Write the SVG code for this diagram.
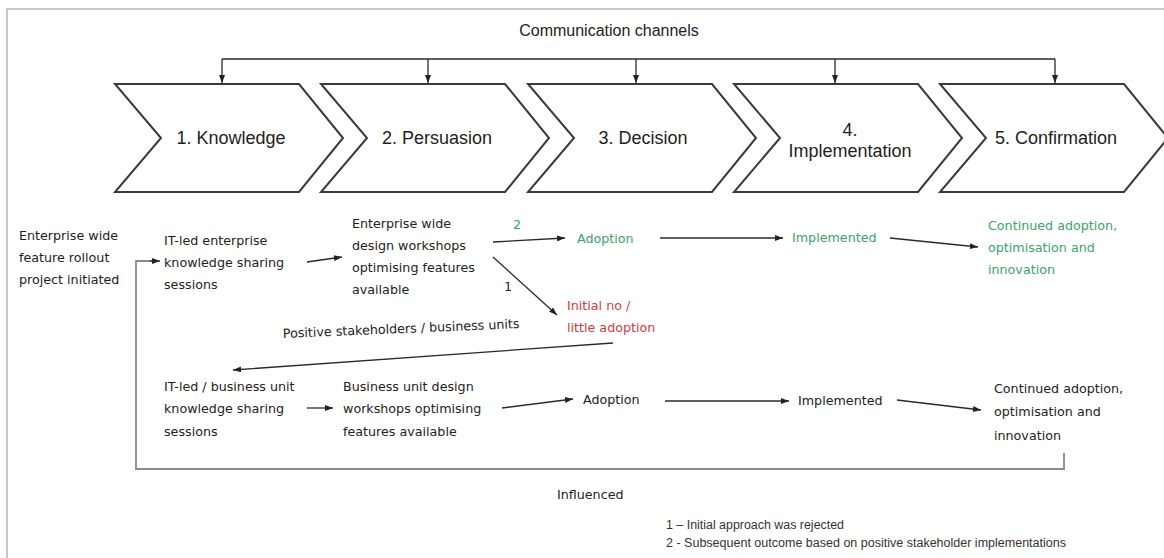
<svg xmlns="http://www.w3.org/2000/svg" width="1164" height="558" viewBox="0 0 1164 558">
  <defs>
    <marker id="arrow" markerUnits="userSpaceOnUse" markerWidth="8" markerHeight="6" refX="8" refY="3" orient="auto">
      <path d="M0,0 L8,3 L0,6 Z" fill="#222"/>
    </marker>
    <style>
      .frame { fill: none; stroke: #c8c8c8; stroke-width: 2; }
      .chev { fill: #ffffff; stroke: #3a3a3a; stroke-width: 2; stroke-linejoin: miter; }
      .stage { font-family: "Liberation Sans", Arial, sans-serif; font-size: 18px; fill: #222; text-anchor: middle; }
      .txt { font-family: "DejaVu Sans", Verdana, sans-serif; font-size: 12.7px; fill: #222; }
      .green { fill: #3ba36b; }
      .red { fill: #d23c3c; }
      .title { font-family: "Liberation Sans", Arial, sans-serif; font-size: 16px; fill: #222; text-anchor: middle; }
      .note { font-family: "Liberation Sans", Arial, sans-serif; font-size: 12.5px; fill: #333; }
      .conn { fill: none; stroke: #2a2a2a; stroke-width: 1.3; }
      .loop { fill: none; stroke: #8a8a8a; stroke-width: 1.8; }
    </style>
  </defs>

  <rect width="1164" height="558" fill="#ffffff"/>
  <!-- outer frame (top and left edges) -->
  <path class="frame" d="M7,558 V9 H1164"/>

  <!-- stage chevrons -->
  <g id="stage-knowledge">
    <path class="chev" d="M115,84 H299 L343,138 L299,192 H115 L161,138 Z"/>
    <text class="stage" x="231" y="144">1. Knowledge</text>
  </g>
  <g id="stage-persuasion">
    <path class="chev" d="M321,84 H505 L549,138 L505,192 H321 L367,138 Z"/>
    <text class="stage" x="437" y="144">2. Persuasion</text>
  </g>
  <g id="stage-decision">
    <path class="chev" d="M528,84 H712 L756,138 L712,192 H528 L574,138 Z"/>
    <text class="stage" x="643" y="144">3. Decision</text>
  </g>
  <g id="stage-implementation">
    <path class="chev" d="M734,84 H918 L962,138 L918,192 H734 L780,138 Z"/>
    <text class="stage" x="850" y="136">4.</text>
    <text class="stage" x="850" y="157">Implementation</text>
  </g>
  <g id="stage-confirmation">
    <path class="chev" d="M940,84 H1124 L1168,138 L1124,192 H940 L986,138 Z"/>
    <text class="stage" x="1056" y="144">5. Confirmation</text>
  </g>

  <g id="communication-channels">
    <text class="title" x="609" y="36">Communication channels</text>
  </g>

  <!-- enterprise-wide path (top row) -->
  <g id="project-initiated">
    <text class="txt" x="19" y="240">Enterprise wide</text>
    <text class="txt" x="19" y="262">feature rollout</text>
    <text class="txt" x="19" y="284">project initiated</text>
  </g>
  <g id="it-led-sessions">
    <text class="txt" x="164" y="245">IT-led enterprise</text>
    <text class="txt" x="164" y="267">knowledge sharing</text>
    <text class="txt" x="164" y="289">sessions</text>
  </g>
  <g id="enterprise-workshops">
    <text class="txt" x="352" y="228">Enterprise wide</text>
    <text class="txt" x="352" y="250">design workshops</text>
    <text class="txt" x="352" y="272">optimising features</text>
    <text class="txt" x="352" y="294">available</text>
  </g>
  <g id="adoption-top">
    <text class="txt green" x="577" y="243">Adoption</text>
  </g>
  <g id="implemented-top">
    <text class="txt green" x="792" y="242">Implemented</text>
  </g>
  <g id="continued-top">
    <text class="txt green" x="988" y="230">Continued adoption,</text>
    <text class="txt green" x="988" y="252">optimisation and</text>
    <text class="txt green" x="988" y="274">innovation</text>
  </g>
  <g id="initial-no-adoption">
    <text class="txt red" x="567" y="310">Initial no /</text>
    <text class="txt red" x="567" y="332">little adoption</text>
  </g>

  <!-- business-unit path (bottom row) -->
  <g id="bu-sessions">
    <text class="txt" x="164" y="391">IT-led / business unit</text>
    <text class="txt" x="164" y="413">knowledge sharing</text>
    <text class="txt" x="164" y="436">sessions</text>
  </g>
  <g id="bu-workshops">
    <text class="txt" x="343" y="391">Business unit design</text>
    <text class="txt" x="343" y="413">workshops optimising</text>
    <text class="txt" x="343" y="436">features available</text>
  </g>
  <g id="adoption-bottom">
    <text class="txt" x="583" y="404">Adoption</text>
  </g>
  <g id="implemented-bottom">
    <text class="txt" x="798" y="405">Implemented</text>
  </g>
  <g id="continued-bottom">
    <text class="txt" x="994" y="393">Continued adoption,</text>
    <text class="txt" x="994" y="416">optimisation and</text>
    <text class="txt" x="994" y="440">innovation</text>
  </g>

  <!-- connectors -->
  <g id="connectors">
    <path class="conn" d="M222,59 H1055"/>
    <path class="conn" marker-end="url(#arrow)" d="M222,59 V83"/>
    <path class="conn" marker-end="url(#arrow)" d="M428,59 V83"/>
    <path class="conn" marker-end="url(#arrow)" d="M636,59 V83"/>
    <path class="conn" marker-end="url(#arrow)" d="M835,59 V83"/>
    <path class="conn" marker-end="url(#arrow)" d="M1055,59 V83"/>

    <path class="conn" marker-end="url(#arrow)" d="M307,262 L342,257"/>
    <path class="conn" marker-end="url(#arrow)" d="M493,242 L565,238"/>
    <path class="conn" marker-end="url(#arrow)" d="M660,238 L783,238"/>
    <path class="conn" marker-end="url(#arrow)" d="M890,238 L978,247"/>
    <path class="conn" marker-end="url(#arrow)" d="M493,257 L557,315"/>
    <text class="txt green" x="513" y="229">2</text>
    <text class="txt" x="504" y="291">1</text>

    <path class="conn" marker-end="url(#arrow)" d="M613,343 L233,370"/>
    <text class="txt" x="283" y="338" transform="rotate(-2.4 283 338)">Positive stakeholders / business units</text>

    <path class="conn" marker-end="url(#arrow)" d="M307,408 L333,408"/>
    <path class="conn" marker-end="url(#arrow)" d="M502,408 L573,399"/>
    <path class="conn" marker-end="url(#arrow)" d="M665,401 L789,401"/>
    <path class="conn" marker-end="url(#arrow)" d="M897,400 L981,410"/>

    <path class="loop" d="M1064,453 V469 H136 V261 H152"/>
    <path class="conn" marker-end="url(#arrow)" d="M150,261 H160"/>
    <text class="txt" x="557" y="499">Influenced</text>
  </g>

  <g id="footnotes">
    <text class="note" x="666" y="529" textLength="178" lengthAdjust="spacingAndGlyphs">1 – Initial approach was rejected</text>
    <text class="note" x="666" y="547" textLength="400" lengthAdjust="spacingAndGlyphs">2 -  Subsequent outcome based on positive stakeholder implementations</text>
  </g>
</svg>
